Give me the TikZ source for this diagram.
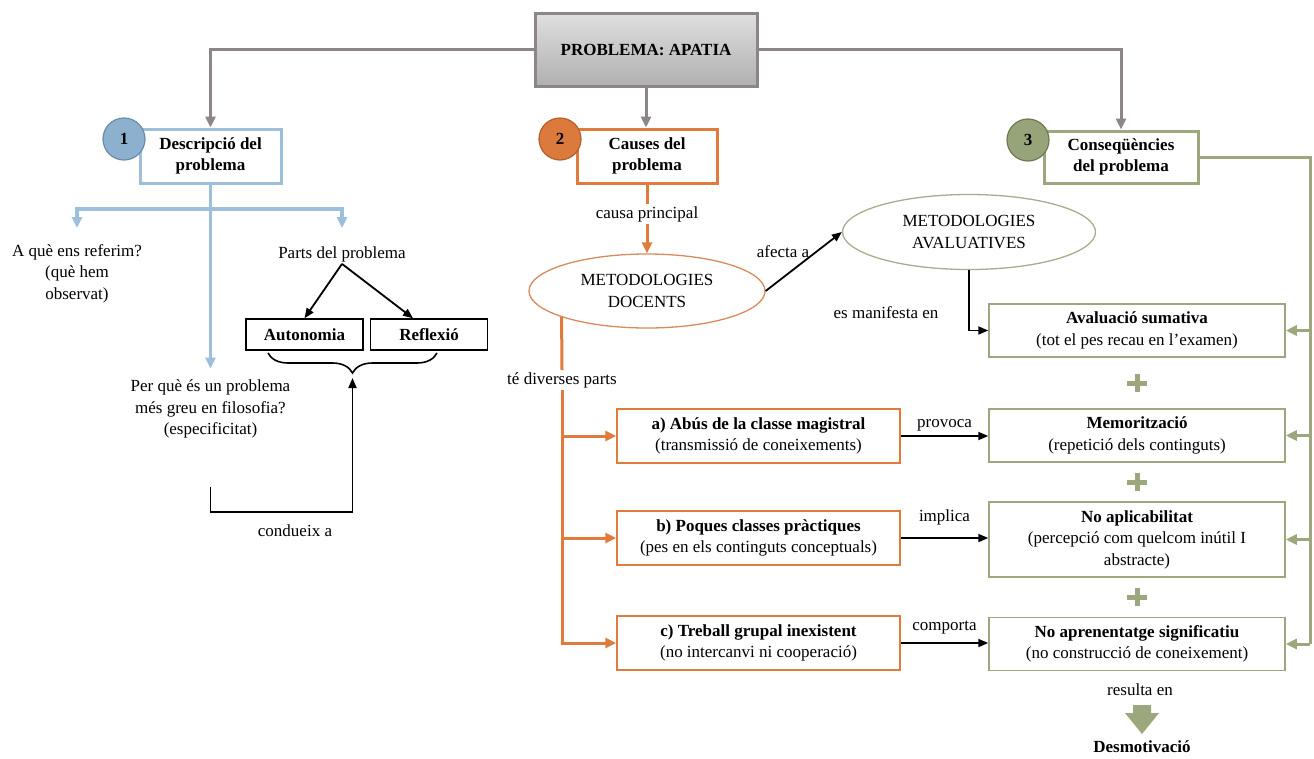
\documentclass[tikz,border=0pt]{standalone}
\usepackage{fontspec}
\setmainfont{Liberation Serif}
\usetikzlibrary{arrows.meta,shapes.geometric,calc,decorations.pathreplacing}

\definecolor{greyline}{HTML}{8C8687}
\definecolor{bluec}{HTML}{9DBFDB}
\definecolor{bluefill}{HTML}{8DB0CF}
\definecolor{bluedark}{HTML}{6A8CAB}
\definecolor{orangec}{HTML}{E07B3C}
\definecolor{orangefill}{HTML}{DC7A3E}
\definecolor{orangedark}{HTML}{B45E2B}
\definecolor{orangeell}{HTML}{D9895A}
\definecolor{greenc}{HTML}{9DA77D}
\definecolor{greenfill}{HTML}{97A378}
\definecolor{greendark}{HTML}{6E7853}
\definecolor{greenell}{HTML}{A7AC8F}

\begin{document}
\begin{tikzpicture}[x=1pt,y=-1pt,
  font=\fontsize{17}{21.5}\selectfont,
  txt/.style={inner sep=2pt,align=center},
  tip/.style={-{Triangle[length=11pt,width=10pt]}},
  thintip/.style={-{Triangle[length=10pt,width=8pt]}},
  catbox/.style={draw,line width=3pt,fill=white,align=center,inner sep=0pt,
    font=\fontsize{17}{21.5}\selectfont\bfseries},
  numcirc/.style={circle,line width=1.2pt,minimum size=42pt,inner sep=0pt,
    font=\fontsize{17}{21.5}\selectfont\bfseries},
  partbox/.style={draw,line width=1.5pt,minimum width=117pt,minimum height=31pt,
    inner sep=0pt,font=\fontsize{17}{21.5}\selectfont\bfseries},
  obox/.style={draw=orangec,line width=1.5pt,minimum width=283pt,minimum height=54pt,
    inner sep=0pt,align=center},
  gbox/.style={draw=greenc,line width=1.5pt,minimum width=296pt,minimum height=53pt,
    inner sep=0pt,align=center},
  greyarrow/.style={greyline,line width=3pt,tip},
  blueline/.style={bluec,line width=3.5pt},
  orangeline/.style={orangec,line width=3pt},
  greenline/.style={greenc,line width=3pt},
  blkarrow/.style={black,line width=1.8pt,thintip},
  plusmark/.style={greenc,line width=5pt}]
  \useasboundingbox (0,0) rectangle (1314,758);

  % top
  \node[draw=greyline,line width=3pt,top color=gray!25,bottom color=gray!62,
    minimum width=222pt,minimum height=73pt,
    font=\fontsize{17}{21.5}\selectfont\bfseries] (prob) at (646,49.5) {PROBLEMA: APATIA};

  \node[catbox,draw=bluec,minimum width=141pt,minimum height=54pt] (desc) at (210.5,156) {Descripció del\\problema};
  \node[numcirc,fill=bluefill,draw=bluedark] (n1) at (124,139) {1};
  \node[catbox,draw=orangec,minimum width=140pt,minimum height=54pt] (caus) at (647,156) {Causes del\\problema};
  \node[numcirc,fill=orangefill,draw=orangedark] (n2) at (560,139) {2};
  \node[catbox,draw=greenc,minimum width=154pt,minimum height=52pt] (cons) at (1121,157) {Conseqüències\\del problema};
  \node[numcirc,fill=greenfill,draw=greendark] (n3) at (1028,140) {3};

  \draw[greyarrow] (prob.west) -| (desc.north);
  \draw[greyarrow] (prob.south) -- (prob.south |- caus.north);
  \draw[greyarrow] (prob.east) -| (cons.north);

  % 1: description
  \coordinate (bsplit) at (210.5,209);
  \node[txt] (q1) at (77,273.5) {A què ens referim?\\(què hem\\observat)};
  \node[txt] (parts) at (342,254) {Parts del problema};
  \node[txt] (q2) at (210.5,409) {Per què és un problema\\més greu en filosofia?\\(especificitat)};
  \draw[blueline] (desc.south) -- (bsplit);
  \draw[blueline,tip] (bsplit) -| ([yshift=14pt]q1.north);
  \draw[blueline,tip] (bsplit) -| ([yshift=16pt]parts.north);
  \draw[blueline,tip] (bsplit) -- ([yshift=9pt]q2.north);

  \node[partbox] (auto) at (304.5,334.5) {Autonomia};
  \node[partbox] (refl) at (429,334.5) {Reflexió};
  \draw[blkarrow] (parts.south) -- (auto.north);
  \draw[blkarrow] (parts.south) -- ([xshift=-16pt]refl.north);
  \draw[line width=1.6pt,decorate,decoration={brace,amplitude=20pt,mirror}] (268,353) -- (437,353);
  \coordinate (btip) at (352.5,378);
  \coordinate (lstart) at (210.5,487);
  \coordinate (lcorner) at (210.5,512);
  \draw[blkarrow] (lstart) -- (lcorner) -| (btip);
  \node[txt] (cond) at (295,531) {condueix a};

  % 2: causes
  \node[txt] (causlbl) at (647,214) {causa principal};
  \node[ellipse,draw=orangeell,line width=1.3pt,minimum width=236pt,minimum height=74pt,
    inner sep=0pt,align=center] (docents) at (647,291) {METODOLOGIES\\DOCENTS};
  \draw[orangeline] (caus.south) -- (caus.south |- causlbl.north);
  \draw[orangeline,tip] (causlbl.south) -- (docents.north);

  \node[txt] (tediv) at (562,380) {té diverses parts};
  \node[obox] (ca) at (758.5,436) {\textbf{a) Abús de la classe magistral}\\(transmissió de coneixements)};
  \node[obox] (cb) at (758.5,538) {\textbf{b) Poques classes pràctiques}\\(pes en els continguts conceptuals)};
  \node[obox] (cc) at (758.5,643) {\textbf{c) Treball grupal inexistent}\\(no intercanvi ni cooperació)};
  \draw[orangeline] (docents.197) -- (tediv.north);
  \draw[orangeline,tip] (tediv.south) |- (cc.west);
  \draw[orangeline,tip] (tediv.south |- ca.west) -- (ca.west);
  \draw[orangeline,tip] (tediv.south |- cb.west) -- (cb.west);

  \node[ellipse,draw=greenell,line width=1.3pt,minimum width=253pt,minimum height=75pt,
    inner sep=0pt,align=center] (avalu) at (969,232) {METODOLOGIES\\AVALUATIVES};
  \node[txt] (afecta) at (783,252) {afecta a};
  \node[txt] (esman) at (886,313) {es manifesta en};
  \draw[blkarrow] (docents.east) -- (avalu.west);

  % 3: consequences
  \node[gbox] (aval) at (1137,330.5) {\textbf{Avaluació sumativa}\\(tot el pes recau en l’examen)};
  \node[gbox] (memo) at (1137,435.5) {\textbf{Memorització}\\(repetició dels continguts)};
  \node[gbox,minimum height=75pt] (noap) at (1137,539.5) {\textbf{No aplicabilitat}\\(percepció com quelcom inútil I\\abstracte)};
  \node[gbox] (noapr) at (1137,644) {\textbf{No aprenentatge significatiu}\\(no construcció de coneixement)};
  \draw[blkarrow] (avalu.south) |- (aval.west);

  \draw[blkarrow] (ca.east) -- (ca.east -| memo.west) node[midway,above=1pt] (lprov) {provoca};
  \draw[blkarrow] (cb.east) -- (cb.east -| noap.west) node[midway,above=9pt] (limpl) {implica};
  \draw[blkarrow] (cc.east) -- (cc.east -| noapr.west) node[midway,above=5pt] (lcomp) {comporta};

  \coordinate (gtop) at (1310,157);
  \draw[greenline] (cons.east) -- (gtop) -- (gtop |- noapr.east);
  \foreach \b in {aval,memo,noap,noapr}
    \draw[greenline,tip] (gtop |- \b.east) -- (\b.east);

  \foreach \a/\b in {aval/memo,memo/noap,noap/noapr}
    \draw[plusmark] ($(\a.south)!0.5!(\b.north)$) +(-10,0) -- +(10,0) +(0,-9) -- +(0,9);

  \node[txt] (result) at (1140,690) {resulta en};
  \coordinate (darr) at (1142,705);
  \fill[greenc] (darr) ++(-9,0) -- ++(18,0) -- ++(0,8) -- ++(8,0) -- ++(-17,21)
    -- ++(-17,-21) -- ++(8,0) -- cycle;
  \node[txt,font=\fontsize{17}{21.5}\selectfont\bfseries] (desmo) at (1142,747) {Desmotivació};
\end{tikzpicture}
\end{document}
